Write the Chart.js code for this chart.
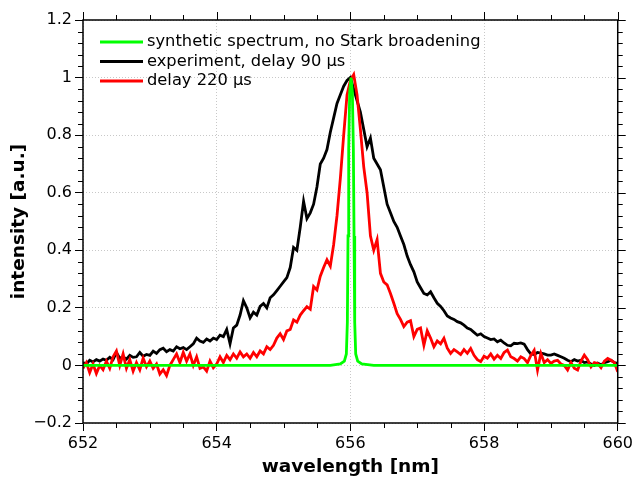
<!DOCTYPE html>
<html>
<head>
<meta charset="utf-8">
<script src="https://cdn.jsdelivr.net/npm/chart.js@4.4.0/dist/chart.umd.min.js"></script>
<style>
  body { margin: 0; background: #fff; }
  #wrap { width: 636px; height: 479px; }
</style>
</head>
<body>
<div id="wrap"><canvas id="myChart"></canvas></div>
<script>
// wavelength grid, 652..660 nm, 0.05 nm per sample
const wlStart = 652;
const wlStep = 0.05;

// experiment, delay 90 us
const black90 = [
  0.010, 0.005, 0.018, 0.012, 0.020, 0.015, 0.022, 0.018, 0.028, 0.020,
  0.045, 0.025, 0.030, 0.022, 0.035, 0.028, 0.030, 0.045, 0.032, 0.038,
  0.035, 0.050, 0.042, 0.055, 0.060, 0.048, 0.055, 0.050, 0.065, 0.058,
  0.062, 0.055, 0.065, 0.075, 0.095, 0.085, 0.080, 0.092, 0.085, 0.095,
  0.090, 0.105, 0.100, 0.125, 0.075, 0.130, 0.140, 0.175, 0.225, 0.200,
  0.165, 0.185, 0.175, 0.205, 0.215, 0.200, 0.235, 0.245, 0.260, 0.275,
  0.290, 0.305, 0.340, 0.410, 0.400, 0.480, 0.570, 0.510, 0.530, 0.560,
  0.620, 0.700, 0.720, 0.750, 0.810, 0.860, 0.910, 0.940, 0.970, 0.990,
  1.000, 0.960, 0.920, 0.880, 0.820, 0.760, 0.790, 0.720, 0.700, 0.680,
  0.620, 0.560, 0.530, 0.500, 0.480, 0.450, 0.420, 0.380, 0.350, 0.325,
  0.290, 0.270, 0.250, 0.245, 0.256, 0.235, 0.216, 0.205, 0.190, 0.172,
  0.165, 0.160, 0.152, 0.148, 0.140, 0.130, 0.125, 0.115, 0.105, 0.110,
  0.100, 0.095, 0.090, 0.092, 0.082, 0.088, 0.078, 0.070, 0.068, 0.077,
  0.076, 0.078, 0.074, 0.055, 0.040, 0.038, 0.045, 0.043, 0.040, 0.036,
  0.036, 0.040, 0.035, 0.030, 0.025, 0.018, 0.013, 0.020, 0.015, 0.018,
  0.010, 0.012, 0.005, 0.000, 0.008, 0.002, 0.010, 0.013, 0.018, 0.010,
  0.007
];

// delay 220 us
const red220 = [
  -0.010, 0.010, -0.025, 0.005, -0.028, 0.000, -0.015, 0.015, -0.010, 0.030,
  0.050, 0.000, 0.040, -0.010, 0.020, -0.020, 0.010, -0.015, 0.025, -0.005,
  0.015, -0.010, 0.005, -0.030, -0.015, -0.035, 0.000, 0.020, 0.040, 0.010,
  0.045, 0.015, 0.040, 0.000, 0.030, -0.010, -0.005, -0.020, 0.015, -0.008,
  0.005, 0.030, 0.010, 0.035, 0.020, 0.040, 0.025, 0.047, 0.030, 0.040,
  0.025, 0.045, 0.030, 0.050, 0.040, 0.065, 0.055, 0.070, 0.095, 0.110,
  0.090, 0.120, 0.125, 0.158, 0.150, 0.175, 0.190, 0.204, 0.195, 0.274,
  0.262, 0.310, 0.340, 0.367, 0.345, 0.420, 0.520, 0.650, 0.800, 0.940,
  0.990, 1.010, 0.940, 0.820, 0.690, 0.600, 0.450, 0.400, 0.437, 0.320,
  0.290, 0.280, 0.250, 0.216, 0.180, 0.160, 0.135, 0.150, 0.155, 0.100,
  0.125, 0.130, 0.070, 0.120, 0.095, 0.065, 0.085, 0.075, 0.094, 0.060,
  0.042, 0.055, 0.047, 0.038, 0.055, 0.042, 0.059, 0.035, 0.020, 0.013,
  0.032, 0.025, 0.040, 0.022, 0.035, 0.024, 0.045, 0.053, 0.030, 0.024,
  0.015, 0.030, 0.024, 0.010, 0.035, 0.053, -0.016, 0.042, 0.010, 0.020,
  0.007, 0.015, 0.018, 0.005, 0.000, -0.016, 0.010, -0.010, -0.016, 0.015,
  0.036, 0.020, -0.005, 0.010, 0.007, -0.008, 0.015, 0.024, 0.018, 0.010,
  -0.022
];

// synthetic spectrum, no Stark broadening (sparse points)
const synthWl = [652, 655.7, 655.85, 655.91, 655.94, 655.955, 655.965, 655.975, 655.99,
  656.01, 656.03, 656.045, 656.055, 656.065, 656.08, 656.11, 656.17, 656.35, 660];
const synthVal = [0, 0, 0.005, 0.015, 0.04, 0.15, 0.45, 0.75, 0.95,
  1.0, 0.95, 0.75, 0.45, 0.15, 0.04, 0.015, 0.005, 0, 0];

const legendLabels = [
  'synthetic spectrum, no Stark broadening',
  'experiment, delay 90 µs',
  'delay 220 µs'
];
const legendColors = ['#00ff00', '#000000', '#ff0000'];

const xTicks = [652, 654, 656, 658, 660];
const yTicks = [-0.2, 0, 0.2, 0.4, 0.6, 0.8, 1, 1.2];

const wl = black90.map((v, i) => +(wlStart + i * wlStep).toFixed(2));
const toXY = (xs, ys) => ys.map((y, i) => ({x: xs[i], y: y}));

Chart.defaults.font.family = '"DejaVu Sans", sans-serif';
Chart.defaults.color = '#000';

// frame, mirrored ticks, minor ticks and legend drawn inside the plot
const framePlugin = {
  id: 'frame',
  afterDraw(chart) {
    const ctx = chart.ctx;
    const a = chart.chartArea;
    const xs = chart.scales.x, ys = chart.scales.y;
    ctx.save();
    ctx.strokeStyle = '#000';
    ctx.lineWidth = 1;
    ctx.beginPath();
    // x ticks: minor every 0.5
    for (let i = 0; i <= 16; i++) {
      const v = 652 + i * 0.5;
      const px = Math.round(xs.getPixelForValue(v)) + 0.5;
      const len = (i % 4 === 0) ? 8 : 5;
      ctx.moveTo(px, a.top); ctx.lineTo(px, a.top - len);
      if (i % 4 !== 0) { ctx.moveTo(px, a.bottom); ctx.lineTo(px, a.bottom + len); }
    }
    // y ticks: minor every 0.04
    for (let i = 0; i <= 35; i++) {
      const v = -0.2 + i * 0.04;
      const py = Math.round(ys.getPixelForValue(v)) + 0.5;
      const len = (i % 5 === 0) ? 8 : 5;
      ctx.moveTo(a.right, py); ctx.lineTo(a.right + len, py);
      if (i % 5 !== 0) { ctx.moveTo(a.left, py); ctx.lineTo(a.left - len, py); }
    }
    ctx.stroke();
    ctx.lineWidth = 1.5;
    ctx.strokeRect(a.left, a.top, a.right - a.left, a.bottom - a.top);

    // legend
    ctx.font = '16.3px "DejaVu Sans"';
    ctx.textBaseline = 'middle';
    ctx.fillStyle = '#000';
    legendLabels.forEach((t, i) => {
      const y = 42 + i * 19.5;
      ctx.strokeStyle = legendColors[i];
      ctx.lineWidth = 3;
      ctx.beginPath();
      ctx.moveTo(100, y); ctx.lineTo(143, y);
      ctx.stroke();
      ctx.fillText(t, 147, y);
    });
    ctx.restore();
  }
};

const config = {
  type: 'line',
  data: {
    datasets: [
      {
        label: legendLabels[0],
        data: toXY(synthWl, synthVal),
        borderColor: legendColors[0],
        borderWidth: 2.8,
        order: 0
      },
      {
        label: legendLabels[2],
        data: toXY(wl, red220),
        borderColor: legendColors[2],
        borderWidth: 2.8,
        order: 1
      },
      {
        label: legendLabels[1],
        data: toXY(wl, black90),
        borderColor: legendColors[1],
        borderWidth: 2.8,
        order: 2
      }
    ]
  },
  options: {
    responsive: true,
    maintainAspectRatio: false,
    animation: false,
    layout: { padding: { top: 20, right: 16, left: 0, bottom: 0 } },
    elements: { point: { radius: 0 }, line: { tension: 0 } },
    plugins: { legend: { display: false }, tooltip: { enabled: false } },
    scales: {
      x: {
        type: 'linear',
        min: 652,
        max: 660,
        afterBuildTicks: (s) => { s.ticks = xTicks.map(v => ({value: v})); },
        afterFit: (s) => { s.height = 56; },
        ticks: { font: { size: 16 }, padding: 3, maxRotation: 0 },
        grid: { color: '#c8c8c8', tickColor: '#000', tickLength: 8, lineWidth: 1 },
        border: { display: false, dash: [1, 2] },
        title: {
          display: true,
          text: 'wavelength [nm]',
          font: { size: 18.5, weight: 'bold' },
          padding: { top: 8, bottom: 1 }
        }
      },
      y: {
        min: -0.2,
        max: 1.2,
        afterBuildTicks: (s) => { s.ticks = yTicks.map(v => ({value: v})); },
        afterFit: (s) => { s.width = 83; },
        ticks: {
          font: { size: 16 },
          padding: 3,
          callback: (v) => String(+v.toFixed(1)).replace('-', '\u2212')
        },
        grid: { color: '#c8c8c8', tickColor: '#000', tickLength: 8, lineWidth: 1 },
        border: { display: false, dash: [1, 2] },
        title: {
          display: true,
          text: 'intensity [a.u.]',
          font: { size: 18.5, weight: 'bold' },
          padding: { top: 8, bottom: 1 }
        }
      }
    }
  },
  plugins: [framePlugin]
};

const myChart = new Chart(document.getElementById('myChart'), config);
</script>
</body>
</html>
